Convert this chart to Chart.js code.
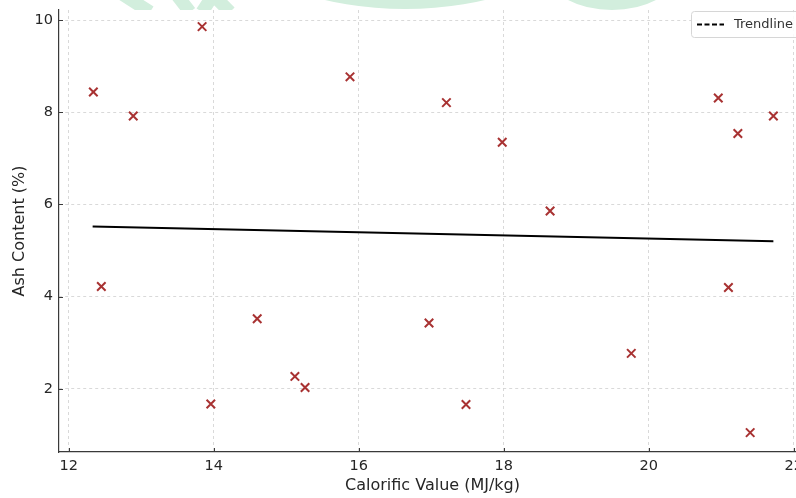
<!DOCTYPE html>
<html>
<head>
<meta charset="utf-8">
<style>
  html, body { margin: 0; padding: 0; background: #fff; overflow: hidden; }
  canvas { display: block; }
</style>
<script src="https://cdn.jsdelivr.net/npm/chart.js@4/dist/chart.umd.min.js"></script>
</head>
<body>
<canvas id="grafico" width="816" height="498"></canvas>
<script>
// muestras: poder calorifico (MJ/kg) y contenido de cenizas (%)
const calorific = [12.34, 12.45, 12.89, 13.84, 13.96, 14.60, 15.12, 15.26, 15.88, 16.97,
                   17.21, 17.48, 17.98, 18.64, 19.76, 20.96, 21.10, 21.23, 21.40, 21.72];
const ash = [8.44, 4.22, 7.92, 9.86, 1.67, 3.52, 2.27, 2.03, 8.77, 3.43,
             8.21, 1.66, 7.35, 5.86, 2.77, 8.31, 4.20, 7.54, 1.05, 7.92];

// extremos de la linea de tendencia
const trendX = [12.33, 21.72];
const trendY = [5.52, 5.20];

const xTicks = [12, 14, 16, 18, 20, 22];
const yTicks = [2, 4, 6, 8, 10];

const fuenteTicks = { family: "'DejaVu Sans', sans-serif", size: 14.5 };
const fuenteTitulo = { family: "'DejaVu Sans', sans-serif", size: 16 };
const colorTexto = "#262626";

const puntos = calorific.map((x, i) => ({ x, y: ash[i] }));
const tendencia = trendX.map((x, i) => ({ x, y: trendY[i] }));

// logo de fondo que asoma por encima del area del grafico
const marcaAgua = {
  id: "marcaAgua",
  beforeDraw(chart) {
    const ctx = chart.ctx;
    const top = chart.chartArea.top;
    ctx.save();
    ctx.beginPath();
    ctx.rect(0, 0, chart.width, top);
    ctx.clip();
    ctx.strokeStyle = "#d2eedd";
    ctx.fillStyle = "#d2eedd";
    ctx.lineWidth = 13;
    [[122, -6, 150, 12], [176, -6, 190, 12], [214, -6, 202, 12], [212, -6, 230, 12]].forEach(l => {
      ctx.beginPath(); ctx.moveTo(l[0], l[1]); ctx.lineTo(l[2], l[3]); ctx.stroke();
    });
    ctx.beginPath();
    ctx.ellipse(405, -52, 153, 61, 0, 0, Math.PI * 2);
    ctx.fill();
    ctx.lineWidth = 16;
    ctx.beginPath();
    ctx.ellipse(612, -36, 62, 38, 0, 0, Math.PI * 2);
    ctx.stroke();
    ctx.restore();
  }
};

// marcas de division hacia dentro y leyenda dentro del area
const extras = {
  id: "extras",
  afterDraw(chart) {
    const ctx = chart.ctx;
    const a = chart.chartArea;
    const sx = chart.scales.x, sy = chart.scales.y;
    ctx.save();
    ctx.strokeStyle = "#3a3a3a";
    ctx.lineWidth = 1;
    xTicks.forEach(v => {
      const px = Math.round(sx.getPixelForValue(v)) + 0.5;
      ctx.beginPath(); ctx.moveTo(px, a.bottom); ctx.lineTo(px, a.bottom - 4); ctx.stroke();
    });
    yTicks.forEach(v => {
      const py = Math.round(sy.getPixelForValue(v)) + 0.5;
      ctx.beginPath(); ctx.moveTo(a.left, py); ctx.lineTo(a.left + 4, py); ctx.stroke();
    });

    // leyenda
    const lx = 691, ly = 11, lw = 112, lh = 26;
    ctx.fillStyle = "rgba(255,255,255,0.85)";
    ctx.strokeStyle = "#d6d6d6";
    ctx.beginPath();
    ctx.roundRect(lx + 0.5, ly + 0.5, lw, lh, 3);
    ctx.fill();
    ctx.stroke();
    ctx.strokeStyle = "#000";
    ctx.lineWidth = 1.8;
    ctx.setLineDash([5, 2.5]);
    ctx.beginPath(); ctx.moveTo(697, ly + 13.5); ctx.lineTo(724, ly + 13.5); ctx.stroke();
    ctx.setLineDash([]);
    ctx.fillStyle = "#333";
    ctx.font = "13px 'DejaVu Sans', sans-serif";
    ctx.textBaseline = "middle";
    ctx.fillText("Trendline", 734, ly + 14);
    ctx.restore();
  }
};

function ejeBase(titulo, tickList) {
  return {
    type: "linear",
    afterBuildTicks: s => { s.ticks = tickList.map(v => ({ value: v })); },
    ticks: { font: fuenteTicks, color: colorTexto, padding: 6 },
    grid: { color: "#d0d0d0", lineWidth: 0.8, drawTicks: false },
    border: { color: "#3a3a3a", width: 1.2, dash: [3, 3] },
    title: { display: true, text: titulo, font: fuenteTitulo, color: colorTexto }
  };
}

const ejeX = ejeBase("Calorific Value (MJ/kg)", xTicks);
ejeX.min = 11.866;
ejeX.max = 22.17;
ejeX.title.padding = { top: 4, bottom: 3 };
ejeX.afterFit = s => { s.height = 46; };

const ejeY = ejeBase("Ash Content (%)", yTicks);
ejeY.min = 0.63;
ejeY.max = 10.22;
ejeY.title.padding = { top: 10, bottom: 4 };
ejeY.afterFit = s => { s.width = 59; s.paddingTop = 0; s.paddingBottom = 0; };

new Chart(document.getElementById("grafico"), {
  type: "scatter",
  data: {
    datasets: [
      {
        label: "Samples",
        data: puntos,
        pointStyle: "crossRot",
        pointRadius: 6,
        borderColor: "#a83232",
        backgroundColor: "#a83232",
        pointBorderWidth: 2
      },
      {
        type: "line",
        label: "Trendline",
        data: tendencia,
        borderColor: "#000",
        borderWidth: 2,
        pointRadius: 0,
        fill: false
      }
    ]
  },
  options: {
    responsive: false,
    animation: false,
    layout: { padding: { top: 10, right: 10, left: 0, bottom: 0 } },
    plugins: { legend: { display: false }, tooltip: { enabled: false } },
    scales: { x: ejeX, y: ejeY }
  },
  plugins: [marcaAgua, extras]
});
</script>
</body>
</html>
